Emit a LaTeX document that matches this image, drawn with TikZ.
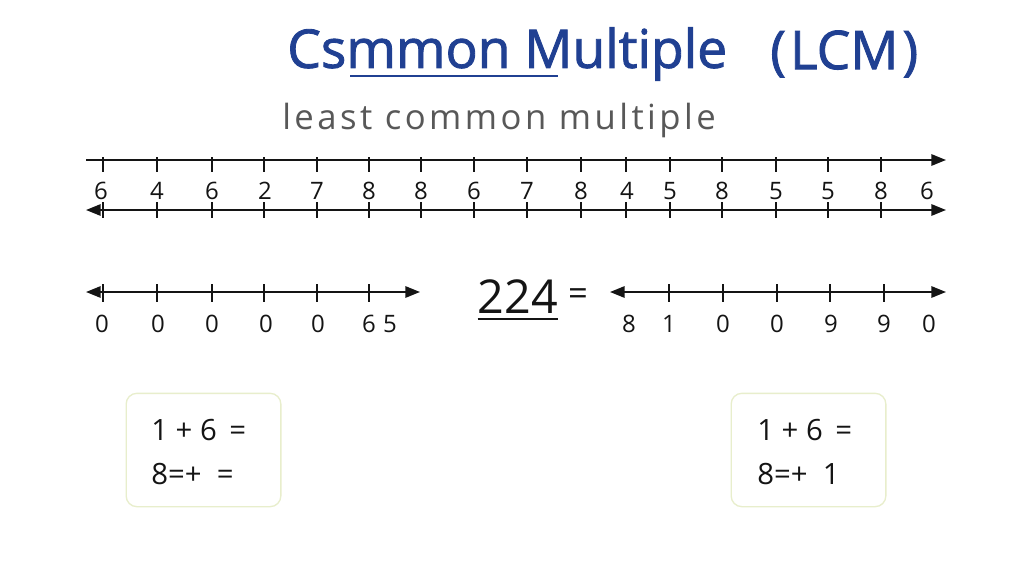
\documentclass[tikz,border=0pt]{standalone}
\usepackage{fontspec}
\setmainfont{Open Sans}
\usetikzlibrary{arrows.meta, positioning}
\definecolor{titleblue}{RGB}{32,64,146}
\definecolor{subgray}{RGB}{88,88,88}
\definecolor{boxedge}{RGB}{232,238,204}
\definecolor{ink}{RGB}{20,20,20}
\tikzset{
  axis/.style={draw=ink, line width=1.5pt, -{Triangle[length=11pt,width=8.5pt]}},
  axisboth/.style={draw=ink, line width=1.5pt, {Triangle[length=11pt,width=8.5pt]}-{Triangle[length=11pt,width=8.5pt]}},
  tickmark/.style={draw=ink, line width=1.1pt},
  num/.style={text=ink, font=\fontsize{18}{22}\selectfont, inner sep=0pt},
  sumbox/.style={draw=boxedge, line width=1pt, rounded corners=8pt, minimum width=116pt, minimum height=85pt},
  sum/.style={text=ink, font=\fontsize{22}{26}\selectfont, anchor=west, inner sep=0pt}
}

\begin{document}
\begin{tikzpicture}[x=0.75pt, y=-0.75pt]
    \useasboundingbox[fill=white] (0,0) rectangle (1024,585);

    % heading
    \node[anchor=west, inner sep=0pt, text=titleblue, font=\fontsize{40}{47}\selectfont\addfontfeatures{FakeBold=1.6}] (title) at (287,54) {Csmmon Multiple};
    \node[anchor=west, inner sep=0pt, text=titleblue, font=\fontsize{40}{47}\selectfont\addfontfeatures{FakeBold=1.6}] (lcm) at (770,54) {(\kern3pt LCM\kern3pt)};
    \coordinate (ul1) at (350,76);
    \coordinate (ul2) at (558,76);
    \draw[titleblue, line width=1.8pt] (ul1) -- (ul2);
    \node[anchor=west, inner sep=0pt, text=subgray, font=\fontsize{26}{30}\selectfont\addfontfeatures{LetterSpace=10}] (sub) at (282,120) {least common multiple};

    % first pair of lines
    \coordinate (a1s) at (86,160);
    \coordinate (a1e) at (946,160);
    \coordinate (a2s) at (86,210);
    \coordinate (a2e) at (946,210);
    \draw[axis] (a1s) -- (a1e);
    \draw[axisboth] (a2s) -- (a2e);
    \foreach \x in {103,157,212,264,317,369,421,474,527,581,626,670,722,776,828,881} {
        \draw[tickmark] (\x,157) -- (\x,172);
        \draw[tickmark] (\x,202) -- (\x,218);
    }
    \foreach \x/\n [count=\i] in {101/6,157/4,212/6,265/2,317/7,369/8,421/8,474/6,527/7,581/8,627/4,670/5,722/8,776/5,828/5,881/8,927/6}
        \node[num] (t\i) at (\x,191) {\n};

    % left line
    \coordinate (a3s) at (86,292);
    \coordinate (a3e) at (420,292);
    \draw[axisboth] (a3s) -- (a3e);
    \foreach \x in {103,157,212,264,317,369}
        \draw[tickmark] (\x,284) -- (\x,302);
    \foreach \x/\n [count=\i] in {102/0,158/0,212/0,266/0,318/0,369/6,390/5}
        \node[num] (b\i) at (\x,324) {\n};

    % equation
    \node[inner sep=0pt, text=ink, font=\fontsize{35}{42}\selectfont] (lhs) at (518,297) {224};
    \draw[ink, line width=1.5pt] ([yshift=-4pt]lhs.south west) -- ([yshift=-4pt]lhs.south east);
    \node[inner sep=0pt, text=ink, font=\fontsize{26}{30}\selectfont] (eq) at (578,297) {=};

    % right line
    \coordinate (a4s) at (610,292);
    \coordinate (a4e) at (946,292);
    \draw[axisboth] (a4s) -- (a4e);
    \foreach \x in {669,723,777,830,884}
        \draw[tickmark] (\x,284) -- (\x,302);
    \foreach \x/\n [count=\i] in {629/8,669/1,723/0,777/0,831/9,884/9,929/0}
        \node[num] (c\i) at (\x,324) {\n};

    % boxes
    \node[sumbox] (box1) at (203.5,450) {};
    \node[sumbox] (box2) at (808.5,450) {};
    \node[sum] (s1) at (151,430) {1 + 6 \,=};
    \node[sum] (s2) at (151,474) {8=+ \ =};
    \node[sum] (s3) at (757,430) {1 + 6 \,=};
    \node[sum] (s4) at (757,474) {8=+ \ 1};
\end{tikzpicture}
\end{document}
